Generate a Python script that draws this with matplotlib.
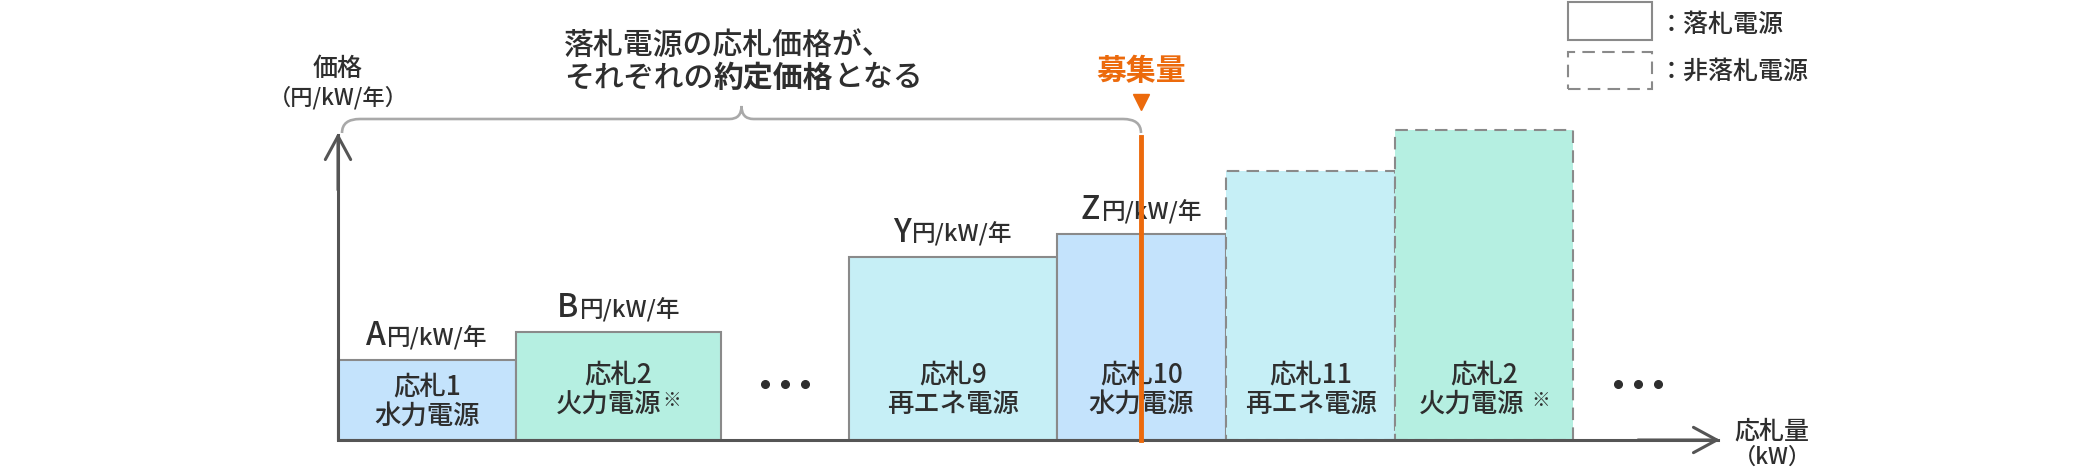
import matplotlib
matplotlib.use('Agg')
import matplotlib.pyplot as plt
from matplotlib.patches import Rectangle, PathPatch
from matplotlib.path import Path
from matplotlib.offsetbox import TextArea, HPacker, AnnotationBbox
import numpy as np

plt.rcParams['font.family'] = ['Noto Sans CJK JP', 'DejaVu Sans']
plt.rcParams['font.weight'] = 500

# bids in merit order: width = 応札量, height = 価格
bid_names = ['応札1', '応札2', '応札9', '応札10', '応札11', '応札2']
bid_types = ['水力電源', '火力電源※', '再エネ電源', '水力電源', '再エネ電源', '火力電源 ※']
bid_kw = [178, 205, 208, 169, 169, 178]
bid_price = [80, 108, 183, 206, 269, 310]
gap_before = [0, 0, 128, 0, 0, 0]
price_names = ['A', 'B', 'Y', 'Z', '', '']
accepted = [True, True, True, True, False, False]
bid_colors = ['#c4e3fc', '#b5efe1', '#c6eff6', '#c4e3fc', '#c6eff6', '#b5efe1']

demand_kw = 803
ellipsis_kw = [447, 1300]
ellipsis_price = 56

tc = '#2e2e2e'
edge = '#8a8a8a'
orange = '#ec6a0c'
dash = (0, (6, 3.5))

lefts = np.cumsum([0] + bid_kw[:-1]) + np.cumsum(gap_before)

fig = plt.figure(figsize=(20.8, 4.7), dpi=100)
ax = fig.add_axes([0, 0, 1, 1])
ax.set_xlim(-338, 1742)
ax.set_ylim(-30, 440)
ax.axis('off')

bars = ax.bar(lefts, bid_price, width=bid_kw, align='edge', color=bid_colors,
              edgecolor=edge, linewidth=1.5, zorder=2)
for b, acc in zip(bars, accepted):
    b.set_joinstyle('miter')
    if not acc:
        b.set_linestyle(dash)

# labels inside bars
for x0, w, h, nm, tp in zip(lefts, bid_kw, bid_price, bid_names, bid_types):
    cx = x0 + w / 2
    cy = min(h / 2 - 2, 50)
    ax.text(cx, cy + 14.5, nm, ha='center', va='center', fontsize=19, color=tc, zorder=4)
    if '※' in tp:
        main, _ = tp.split('※')
        box = HPacker(children=[TextArea(main.strip(), textprops=dict(fontsize=19, color=tc)),
                                TextArea('※', textprops=dict(fontsize=13.5, color=tc))],
                      align='top', pad=0, sep=5 if main.endswith(' ') else 1)
        ax.add_artist(AnnotationBbox(box, (cx, cy - 14.5), frameon=False, pad=0,
                                     box_alignment=(0.5, 0.5), zorder=4))
    else:
        ax.text(cx, cy - 14.5, tp, ha='center', va='center', fontsize=19, color=tc, zorder=4)

# price labels above accepted bars
for x0, w, h, pn in zip(lefts, bid_kw, bid_price, price_names):
    if not pn:
        continue
    box = HPacker(children=[TextArea(pn, textprops=dict(fontsize=23, color=tc)),
                            TextArea('円/kW/年', textprops=dict(fontsize=17, color=tc))],
                  align='baseline', pad=0, sep=1)
    ax.add_artist(AnnotationBbox(box, (x0 + w / 2, h + 24), frameon=False, pad=0,
                                 box_alignment=(0.5, 0.5), zorder=4))

# ellipsis dots
for ex in ellipsis_kw:
    ax.plot([ex - 20, ex, ex + 20], [ellipsis_price] * 3, 'o', color=tc, ms=5.5, zorder=4)

# axes with arrows
ax.plot([0, 0, 1380], [305, 0, 0], color='#555555', lw=2.2, solid_joinstyle='miter', zorder=3)
arw = dict(arrowstyle='->, head_length=0.7, head_width=0.38', lw=2.2, color='#555555',
           shrinkA=0, shrinkB=0, mutation_scale=24)
ax.annotate('', xy=(1382, 0), xytext=(1300, 0), arrowprops=arw, zorder=3)
ax.annotate('', xy=(0, 307), xytext=(0, 250), arrowprops=arw, zorder=3)
ax.text(0, 371, '価格', ha='center', va='center', fontsize=18, color=tc)
ax.text(0, 342, '（円/kW/年）', ha='center', va='center', fontsize=16, color=tc)
ax.text(1434, 8, '応札量', ha='center', va='center', fontsize=18, color=tc)
ax.text(1434, -17, '（kW）', ha='center', va='center', fontsize=16, color=tc)

# demand line
ax.plot([demand_kw, demand_kw], [0, 303], color=orange, lw=3.5, zorder=5)
ax.plot([demand_kw], [338], 'v', color=orange, ms=12, zorder=5)
ax.text(demand_kw, 369, '募集量', ha='center', va='center', fontsize=21.5,
        fontweight='bold', color=orange)

# brace over accepted bids
xb0, xb1 = 4, demand_kw
xm = (xb0 + xb1) / 2
yb, yh, yp = 307, 321, 334
r, r2 = 18, 12
verts = [(xb0, yb), (xb0, yh), (xb0 + r, yh),
         (xm - r2, yh), (xm, yh), (xm, yp),
         (xm, yh), (xm + r2, yh),
         (xb1 - r, yh), (xb1, yh), (xb1, yb)]
codes = [Path.MOVETO, Path.CURVE3, Path.CURVE3,
         Path.LINETO, Path.CURVE3, Path.CURVE3,
         Path.CURVE3, Path.CURVE3,
         Path.LINETO, Path.CURVE3, Path.CURVE3]
ax.add_patch(PathPatch(Path(verts, codes), fill=False, ec='#a9a9a9', lw=1.9))

ax.text(226, 395, '落札電源の応札価格が、', ha='left', va='center', fontsize=21.5, color=tc)
line2 = HPacker(children=[TextArea('それぞれの', textprops=dict(fontsize=21.5, color=tc)),
                          TextArea('約定価格', textprops=dict(fontsize=21.5, color=tc, fontweight='bold')),
                          TextArea('となる', textprops=dict(fontsize=21.5, color=tc))],
                align='baseline', pad=0, sep=0)
ax.add_artist(AnnotationBbox(line2, (226, 362), frameon=False, pad=0, box_alignment=(0, 0.5)))

# legend
ax.add_patch(Rectangle((1230, 400), 84, 38, fill=False, ec=edge, lw=1.5))
ax.add_patch(Rectangle((1230, 351), 84, 37, fill=False, ec=edge, lw=1.5, ls=dash))
ax.text(1321, 415, '：落札電源', ha='left', va='center', fontsize=18, color=tc)
ax.text(1321, 368, '：非落札電源', ha='left', va='center', fontsize=18, color=tc)

fig.savefig('out.png', dpi=100)
